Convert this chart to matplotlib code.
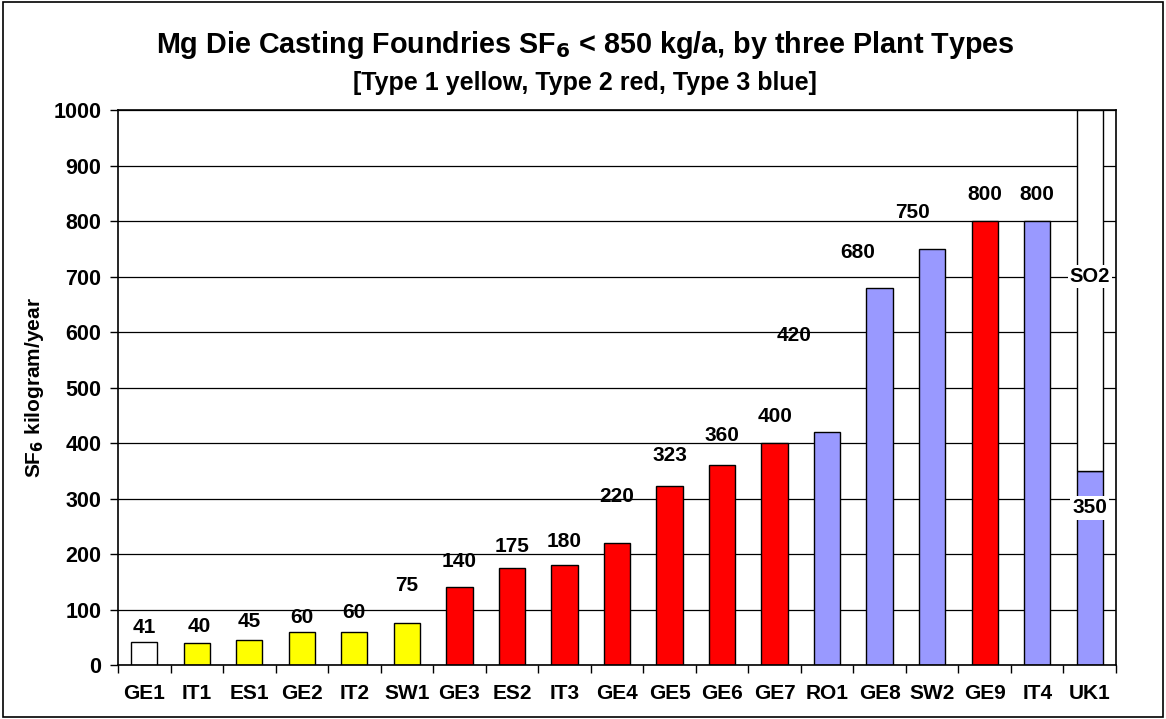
import matplotlib.pyplot as plt
import matplotlib.patches as patches
import numpy as np

plt.rcParams['font.family'] = ['Liberation Sans', 'DejaVu Sans']
plt.rcParams['font.weight'] = 'bold'

plants = ['GE1', 'IT1', 'ES1', 'GE2', 'IT2', 'SW1', 'GE3', 'ES2', 'IT3', 'GE4',
          'GE5', 'GE6', 'GE7', 'RO1', 'GE8', 'SW2', 'GE9', 'IT4', 'UK1']
sf6 = [41, 40, 45, 60, 60, 75, 140, 175, 180, 220,
       323, 360, 400, 420, 680, 750, 800, 800, 350]
plant_type = [0, 1, 1, 1, 1, 1, 2, 2, 2, 2, 2, 2, 2, 3, 3, 3, 2, 3, 3]
# UK1 uses SO2, drawn as open bar up to the top of the scale
so2_top = 1000

# where the value labels sit (Excel placed them by hand)
label_y = [68, 70, 79, 86, 95, 144, 187, 214, 222, 303,
           378, 413, 447, 593, 744, 816, 847, 847, 283]
label_dx = [0, 0.05, 0, 0, 0, 0, 0, 0, 0, 0,
            0, 0, 0, -0.63, -0.42, -0.38, 0, 0, 0]

type_colors = {0: '#ffffff', 1: '#ffff00', 2: '#ff0000', 3: '#9999ff'}

fig = plt.figure(figsize=(11.66, 7.19), dpi=100)
fig.patch.set_facecolor('white')
fig.add_artist(patches.Rectangle((0.003, 0.003), 0.994, 0.994, transform=fig.transFigure,
                                 fill=False, edgecolor='black', linewidth=1.2))

ax = fig.add_axes([0.1012, 0.0751, 0.8559, 0.7719])

x = np.arange(len(plants))
colors = [type_colors[t] for t in plant_type]
ax.bar(x, sf6, width=0.5, color=colors, edgecolor='black', linewidth=1.0, zorder=2)

# open SO2 bar on top of UK1
uk = plants.index('UK1')
ax.bar(x[uk], so2_top - sf6[uk], bottom=sf6[uk], width=0.5, color='white',
       edgecolor='black', linewidth=1.0, zorder=2)

for i, v in enumerate(sf6):
    box = None
    if plants[i] == 'UK1':
        box = dict(facecolor='white', edgecolor='none', pad=1.5)
    ax.text(x[i] + label_dx[i], label_y[i], str(v), ha='center', va='center',
            fontsize=15, fontweight='bold', bbox=box, zorder=4)
ax.text(x[uk], 700, 'SO2', ha='center', va='center', fontsize=14.5, fontweight='bold',
        bbox=dict(facecolor='white', edgecolor='none', pad=1.5), zorder=4)

ax.set_xlim(-0.5, len(plants) - 0.5)
ax.set_ylim(0, 1000)
ax.set_yticks(np.arange(0, 1001, 100))
ax.set_xticks(x)
ax.set_xticklabels(plants, fontsize=15, fontweight='bold')
ax.set_xticks(np.arange(-0.5, len(plants), 1), minor=True)
ax.tick_params(axis='x', which='major', length=0, pad=14)
ax.tick_params(axis='x', which='minor', length=6, width=1, direction='out')
ax.tick_params(axis='y', labelsize=15.5, length=6, width=1, direction='out', pad=6)
for lbl in ax.get_yticklabels():
    lbl.set_fontweight('bold')

ax.yaxis.grid(True, color='black', linewidth=0.9, zorder=0)
ax.set_axisbelow(True)
for s in ax.spines.values():
    s.set_color('black')
    s.set_linewidth(1.2)

ax.set_ylabel('SF$_\\mathbf{6}$ kilogram/year', fontsize=15, fontweight='bold', labelpad=5)

fig.text(0.502, 0.937, 'Mg Die Casting Foundries SF$_\\mathbf{6}$ < 850 kg/a, by three Plant Types',
         ha='center', va='center', fontsize=20.7, fontweight='bold')
fig.text(0.502, 0.884, '[Type 1 yellow, Type 2 red, Type 3 blue]',
         ha='center', va='center', fontsize=18, fontweight='bold')

fig.savefig('out.png', dpi=100)
